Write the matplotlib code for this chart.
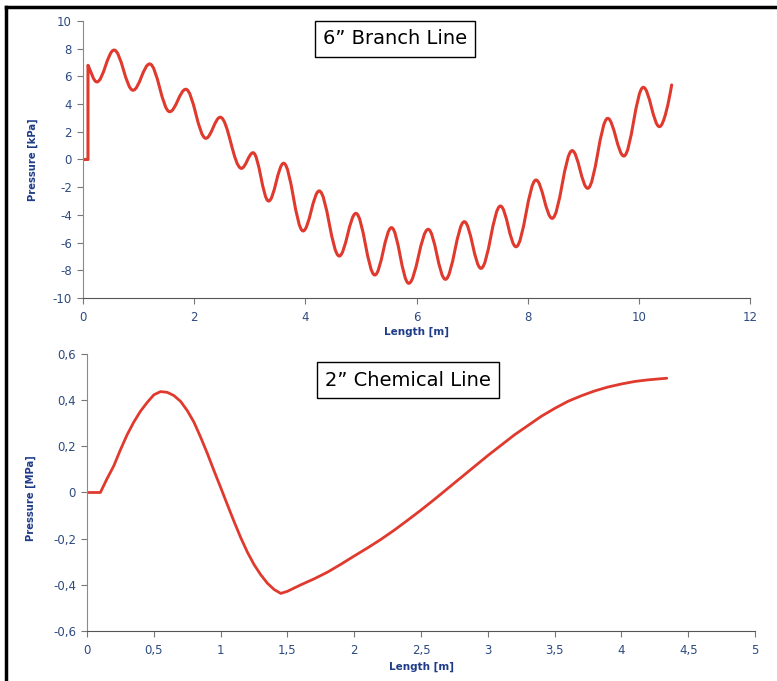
"""Pressure transients along a 6" branch line and a 2" chemical line."""

import matplotlib

matplotlib.use("Agg")

import matplotlib.pyplot as plt
from matplotlib.lines import Line2D
from matplotlib.patches import PathPatch
from matplotlib.path import Path
from matplotlib.ticker import FuncFormatter

plt.rcParams["axes.unicode_minus"] = False

# 6" branch line: start step, then the turning points of the oscillation
branch_x = [0, 0.09, 0.09, 0.25, 0.56, 0.90, 1.20, 1.56, 1.85, 2.21, 2.47, 2.85,
            3.06, 3.34, 3.61, 3.96, 4.25, 4.61, 4.91, 5.25, 5.55, 5.86, 6.21,
            6.52, 6.86, 7.16, 7.51, 7.79, 8.15, 8.44, 8.80, 9.08, 9.44, 9.73,
            10.08, 10.37, 10.59]
branch_p = [0, 0, 6.8, 5.6, 7.9, 5.0, 6.9, 3.45, 5.07, 1.53, 3.05, -0.64,
            0.49, -3.0, -0.27, -5.16, -2.27, -6.97, -3.89, -8.34, -4.92, -8.94,
            -5.04, -8.65, -4.49, -7.86, -3.36, -6.3, -1.48, -4.25, 0.64, -2.08,
            2.97, 0.25, 5.21, 2.37, 5.38]

# 2" chemical line
chem_x = [0, 0.10, 0.15, 0.20, 0.25, 0.30, 0.35, 0.40, 0.45, 0.50, 0.55,
          0.60, 0.65, 0.70, 0.75, 0.80, 0.85, 0.90, 0.95, 1.00, 1.05, 1.10,
          1.15, 1.20, 1.25, 1.30, 1.35, 1.40, 1.45, 1.50, 1.60, 1.70, 1.80,
          1.90, 2.00, 2.10, 2.20, 2.30, 2.40, 2.50, 2.60, 2.80, 3.00, 3.20,
          3.40, 3.50, 3.60, 3.70, 3.80, 3.90, 4.00, 4.10, 4.20, 4.339]
chem_p = [0, 0, 0.06, 0.115, 0.185, 0.25, 0.305, 0.352, 0.39, 0.423, 0.437,
          0.434, 0.420, 0.395, 0.355, 0.305, 0.240, 0.170, 0.095, 0.022,
          -0.052, -0.125, -0.195, -0.258, -0.312, -0.356, -0.393, -0.420,
          -0.437, -0.428, -0.400, -0.374, -0.345, -0.311, -0.275, -0.240,
          -0.203, -0.163, -0.120, -0.076, -0.030, 0.065, 0.160, 0.250, 0.330,
          0.364, 0.395, 0.419, 0.440, 0.457, 0.470, 0.481, 0.488, 0.495]

RED = "#e03a2e"
NAVY = "#2d4a80"
LABEL_NAVY = "#1f3c88"


def branch_path(xs, ys, n_steps=3, k=0.364):
    """Straight start step, then smooth arcs between turning points."""
    verts = [(xs[0], ys[0])]
    codes = [Path.MOVETO]
    for i in range(1, n_steps):
        verts.append((xs[i], ys[i]))
        codes.append(Path.LINETO)
    last = len(xs) - 1
    for i in range(n_steps - 1, last):
        x0, y0, x1, y1 = xs[i], ys[i], xs[i + 1], ys[i + 1]
        dx = x1 - x0
        c1 = (x0 + k * dx, y0)
        if i == n_steps - 1:
            c1 = (x0 + k * dx, y0 - 0.4 * (y0 - y1))
        c2 = (x1 - k * dx, y1)
        if i + 1 == last:
            c2 = (x1 - 0.2 * dx, y1 - 0.35 * (y1 - y0))
        verts += [c1, c2, (x1, y1)]
        codes += [Path.CURVE4] * 3
    return Path(verts, codes)


def comma(v, _pos):
    s = f"{v:.1f}".replace(".", ",")
    if s.endswith(",0"):
        s = s[:-2]
    if s == "-0":
        s = "0"
    return s


def style_axes(ax):
    for side in ("top", "right"):
        ax.spines[side].set_visible(False)
    ax.spines["left"].set_color("#8a8a8a")
    ax.spines["bottom"].set_color("#555555")
    ax.tick_params(axis="both", direction="out", length=4, width=0.8,
                   colors="#777777", labelcolor=NAVY, labelsize=8.5)
    ax.tick_params(axis="y", pad=4)
    ax.tick_params(axis="x", pad=5)


fig = plt.figure(figsize=(7.77, 6.81), dpi=100)

# top: 6" branch line
ax1 = fig.add_axes([0.1068, 0.5624, 0.8585, 0.4068])
ax1.add_patch(PathPatch(branch_path(branch_x, branch_p), fill=False,
                        edgecolor=RED, linewidth=2.2, capstyle="round",
                        joinstyle="round"))
ax1.set_xlim(0, 12)
ax1.set_ylim(-10, 10)
ax1.set_xticks(range(0, 13, 2))
ax1.set_yticks(range(-10, 11, 2))
style_axes(ax1)
ax1.set_xlabel("Length [m]", fontsize=7.5, fontweight="bold", color=LABEL_NAVY)
ax1.set_ylabel("Pressure [kPa]", fontsize=7.2, fontweight="bold",
               color=LABEL_NAVY)
ax1.xaxis.set_label_coords(0.5, -0.105)
ax1.yaxis.set_label_coords(-0.0675, 0.5)
ax1.text(0.468, 0.935, "6\u201d Branch Line", transform=ax1.transAxes,
         ha="center", va="center", fontsize=14, color="black",
         bbox=dict(boxstyle="square,pad=0.42", facecolor="white",
                   edgecolor="black", linewidth=1.0))

# bottom: 2" chemical line
ax2 = fig.add_axes([0.112, 0.0734, 0.8597, 0.4068])
ax2.plot(chem_x, chem_p, color=RED, linewidth=2.0, solid_capstyle="round",
         solid_joinstyle="round")
ax2.set_xlim(0, 5)
ax2.set_ylim(-0.6, 0.6)
ax2.set_xticks([i * 0.5 for i in range(11)])
ax2.set_yticks([-0.6, -0.4, -0.2, 0, 0.2, 0.4, 0.6])
ax2.xaxis.set_major_formatter(FuncFormatter(comma))
ax2.yaxis.set_major_formatter(FuncFormatter(comma))
style_axes(ax2)
ax2.set_xlabel("Length [m]", fontsize=7.5, fontweight="bold", color=LABEL_NAVY)
ax2.set_ylabel("Pressure [MPa]", fontsize=7.2, fontweight="bold",
               color=LABEL_NAVY)
ax2.xaxis.set_label_coords(0.5, -0.11)
ax2.yaxis.set_label_coords(-0.076, 0.48)
ax2.text(0.48, 0.906, "2\u201d Chemical Line", transform=ax2.transAxes,
         ha="center", va="center", fontsize=14, color="black",
         bbox=dict(boxstyle="square,pad=0.42", facecolor="white",
                   edgecolor="black", linewidth=1.0))

# black frame on the left and top edges
fig.add_artist(Line2D([0.0077, 0.0077], [0, 0.989], transform=fig.transFigure,
                      color="black", linewidth=2.5))
fig.add_artist(Line2D([0.0077, 1.0], [0.989, 0.989], transform=fig.transFigure,
                      color="black", linewidth=2.5))

fig.savefig("out.png", dpi=100)
plt.close(fig)
